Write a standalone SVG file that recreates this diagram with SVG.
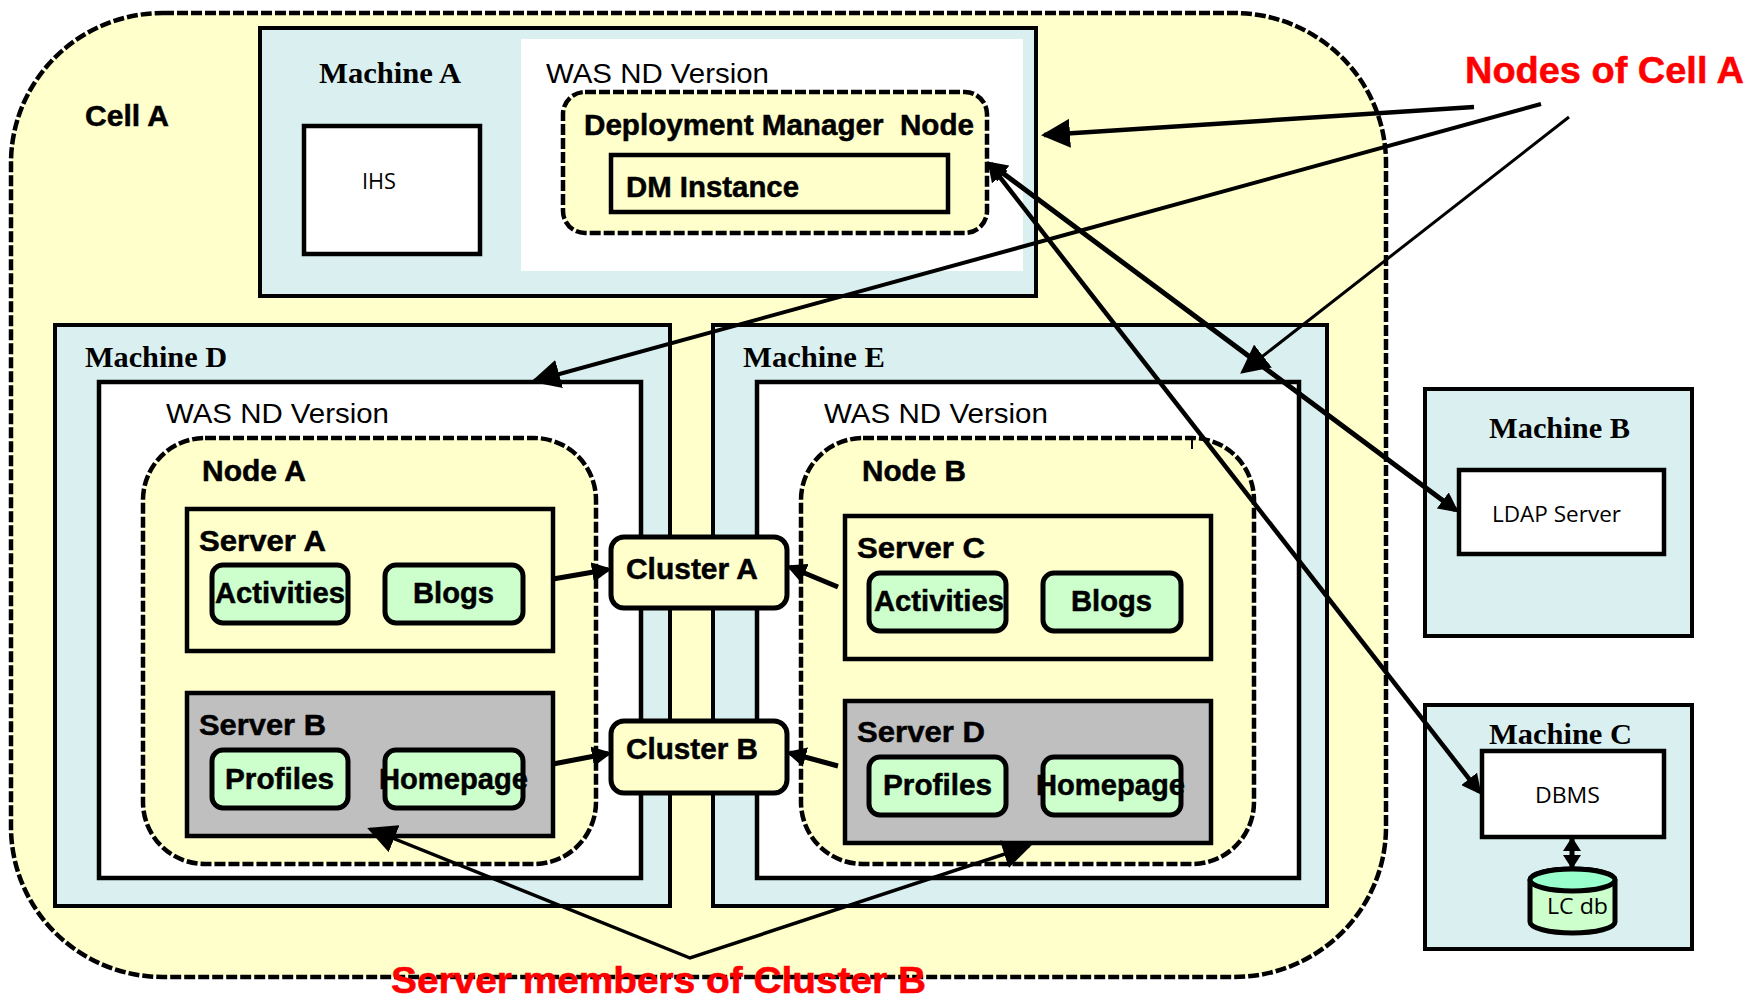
<svg xmlns="http://www.w3.org/2000/svg" width="1748" height="998" viewBox="0 0 1748 998">
<style>
.cell{fill:#ffffcc;stroke:#000;stroke-width:4.500;stroke-dasharray:11 3}
.node{fill:#ffffcc;stroke:#000;stroke-width:4.500;stroke-dasharray:11 3}
.mach{fill:#daf0f0;stroke:#000;stroke-width:4}
.white{fill:#fff;stroke:#000;stroke-width:4.500}
.srv{fill:#ffffcc;stroke:#000;stroke-width:4.500}
.gsrv{fill:#bfbfbf;stroke:#000;stroke-width:4.500}
.app{fill:#ccffcc;stroke:#000;stroke-width:5}
.clu{fill:#ffffcc;stroke:#000;stroke-width:5}
text{fill:#000}
.b{font:bold 29px "Liberation Sans",Arial,sans-serif;stroke:#000;stroke-width:.5}
.m{font:bold 30px "Liberation Serif","Times New Roman",serif}
.w{font:28px "Liberation Sans",Arial,sans-serif}
.s{font:22px "Open Sans","Liberation Sans",sans-serif}
.r{font:bold 36px "Liberation Sans",Arial,sans-serif;fill:#ff0000;stroke:#ff0000;stroke-width:.5}
.c{fill:none;stroke:#000}
</style>
<defs>
<marker id="big" markerUnits="userSpaceOnUse" viewBox="0 0 29 29" markerWidth="29" markerHeight="29" refX="26" refY="14.5" orient="auto-start-reverse"><path d="M0 0L29 14.5L0 29z"/></marker>
<marker id="small" markerUnits="userSpaceOnUse" viewBox="0 0 20 20" markerWidth="20" markerHeight="20" refX="16" refY="10" orient="auto-start-reverse"><path d="M0 0L20 10L0 20z"/></marker>
<marker id="tiny" markerUnits="userSpaceOnUse" viewBox="0 0 14 18" markerWidth="14" markerHeight="18" refX="12" refY="9" orient="auto-start-reverse"><path d="M0 0L14 9L0 18z"/></marker>
</defs>

<g id="cell-a">
<rect class="cell" x="11" y="13" width="1375" height="964" rx="152" ry="150"/>
<text class="b" x="85" y="126" textLength="84" lengthAdjust="spacingAndGlyphs">Cell A</text>
</g>

<g id="machine-a">
<rect class="mach" x="260" y="28" width="776" height="268"/>
<rect x="521" y="39" width="502" height="232" fill="#fff"/>
<text class="m" x="319" y="83" textLength="142" lengthAdjust="spacingAndGlyphs">Machine A</text>
<text class="w" x="546" y="83" textLength="223" lengthAdjust="spacingAndGlyphs">WAS ND Version</text>
</g>
<g id="ihs">
<rect class="white" x="304" y="126" width="176" height="128"/>
<text class="s" x="362" y="189" textLength="34" lengthAdjust="spacingAndGlyphs">IHS</text>
</g>
<g id="dm-node">
<rect class="node" x="563" y="92" width="424" height="141" rx="22" ry="22"/>
<text class="b" x="584" y="135" textLength="390" lengthAdjust="spacingAndGlyphs" xml:space="preserve">Deployment Manager  Node</text>
</g>
<g id="dm-instance">
<rect class="srv" x="611" y="155" width="337" height="57"/>
<text class="b" x="626" y="197" textLength="173" lengthAdjust="spacingAndGlyphs">DM Instance</text>
</g>

<g id="machine-d">
<rect class="mach" x="55" y="325" width="615" height="581"/>
<rect class="white" x="99" y="382" width="542" height="496"/>
<text class="m" x="85" y="367" textLength="142" lengthAdjust="spacingAndGlyphs">Machine D</text>
<text class="w" x="166" y="423" textLength="223" lengthAdjust="spacingAndGlyphs">WAS ND Version</text>
</g>
<g id="node-a">
<rect class="node" x="143" y="438" width="453" height="426" rx="62" ry="62"/>
<text class="b" x="202" y="481" textLength="104" lengthAdjust="spacingAndGlyphs">Node A</text>
</g>
<g id="server-a">
<rect class="srv" x="187" y="509" width="366" height="142"/>
<text class="b" x="199" y="551" textLength="127" lengthAdjust="spacingAndGlyphs">Server A</text>
</g>
<g id="activities-a">
<rect class="app" x="212" y="565" width="136" height="58" rx="11"/>
<text class="b" x="215" y="603" textLength="130" lengthAdjust="spacingAndGlyphs">Activities</text>
</g>
<g id="blogs-a">
<rect class="app" x="385" y="565" width="138" height="58" rx="11"/>
<text class="b" x="413" y="603" textLength="81" lengthAdjust="spacingAndGlyphs">Blogs</text>
</g>
<g id="server-b">
<rect class="gsrv" x="187" y="693" width="366" height="143"/>
<text class="b" x="199" y="735" textLength="127" lengthAdjust="spacingAndGlyphs">Server B</text>
</g>
<g id="profiles-b">
<rect class="app" x="212" y="750" width="136" height="58" rx="11"/>
<text class="b" x="225" y="789" textLength="109" lengthAdjust="spacingAndGlyphs">Profiles</text>
</g>
<g id="homepage-b">
<rect class="app" x="385" y="750" width="138" height="58" rx="11"/>
<text class="b" x="379" y="789" textLength="149" lengthAdjust="spacingAndGlyphs">Homepage</text>
</g>

<g id="machine-e">
<rect class="mach" x="713" y="325" width="614" height="581"/>
<rect class="white" x="757" y="382" width="542" height="496"/>
<text class="m" x="743" y="367" textLength="142" lengthAdjust="spacingAndGlyphs">Machine E</text>
<text class="w" x="824" y="423" textLength="224" lengthAdjust="spacingAndGlyphs">WAS ND Version</text>
</g>
<g id="node-b">
<rect class="node" x="801" y="438" width="453" height="426" rx="62" ry="62"/>
<path d="M1192 439V449" fill="none" stroke="#000" stroke-width="2"/>
<text class="b" x="862" y="481" textLength="104" lengthAdjust="spacingAndGlyphs">Node B</text>
</g>
<g id="server-c">
<rect class="srv" x="845" y="516" width="366" height="143"/>
<text class="b" x="857" y="558" textLength="128" lengthAdjust="spacingAndGlyphs">Server C</text>
</g>
<g id="activities-c">
<rect class="app" x="869" y="573" width="137" height="58" rx="11"/>
<text class="b" x="874" y="611" textLength="130" lengthAdjust="spacingAndGlyphs">Activities</text>
</g>
<g id="blogs-c">
<rect class="app" x="1043" y="573" width="138" height="58" rx="11"/>
<text class="b" x="1071" y="611" textLength="81" lengthAdjust="spacingAndGlyphs">Blogs</text>
</g>
<g id="server-d">
<rect class="gsrv" x="845" y="701" width="366" height="142"/>
<text class="b" x="857" y="742" textLength="128" lengthAdjust="spacingAndGlyphs">Server D</text>
</g>
<g id="profiles-d">
<rect class="app" x="869" y="757" width="137" height="58" rx="11"/>
<text class="b" x="883" y="795" textLength="109" lengthAdjust="spacingAndGlyphs">Profiles</text>
</g>
<g id="homepage-d">
<rect class="app" x="1043" y="757" width="138" height="58" rx="11"/>
<text class="b" x="1036" y="795" textLength="149" lengthAdjust="spacingAndGlyphs">Homepage</text>
</g>

<g id="cluster-a">
<rect class="clu" x="611" y="537" width="176" height="71" rx="13"/>
<text class="b" x="626" y="579" textLength="132" lengthAdjust="spacingAndGlyphs">Cluster A</text>
</g>
<g id="cluster-b">
<rect class="clu" x="611" y="721" width="176" height="72" rx="13"/>
<text class="b" x="626" y="759" textLength="132" lengthAdjust="spacingAndGlyphs">Cluster B</text>
</g>

<g id="machine-b">
<rect class="mach" x="1425" y="389" width="267" height="247"/>
<text class="m" x="1489" y="438" textLength="141" lengthAdjust="spacingAndGlyphs">Machine B</text>
</g>
<g id="ldap-server">
<rect class="white" x="1459" y="470" width="205" height="84"/>
<text class="s" x="1492" y="522" textLength="129" lengthAdjust="spacingAndGlyphs">LDAP Server</text>
</g>
<g id="machine-c">
<rect class="mach" x="1425" y="705" width="267" height="244"/>
<text class="m" x="1489" y="744" textLength="143" lengthAdjust="spacingAndGlyphs">Machine C</text>
</g>
<g id="dbms">
<rect class="white" x="1482" y="751" width="182" height="86"/>
<text class="s" x="1535" y="803" textLength="65" lengthAdjust="spacingAndGlyphs">DBMS</text>
</g>
<g id="lc-db">
<path d="M1530 880V922A42.500 11 0 0 0 1615 922V880A42.500 11 0 0 0 1530 880z" fill="#ccffcc" stroke="#000" stroke-width="5"/>
<ellipse cx="1572.500" cy="880" rx="42.500" ry="11" fill="#99ffcc" stroke="#000" stroke-width="5"/>
<text class="s" x="1547" y="914" textLength="61" lengthAdjust="spacingAndGlyphs">LC db</text>
</g>

<g id="connectors">
<line class="c" stroke-width="4.500" x1="1474" y1="107" x2="1044" y2="135" marker-end="url(#big)"/>
<line class="c" stroke-width="4" x1="1541" y1="104" x2="534" y2="381" marker-end="url(#big)"/>
<line class="c" stroke-width="3" x1="1569" y1="117" x2="1242.500" y2="372" marker-end="url(#big)"/>
<line class="c" stroke-width="5" x1="990.500" y1="164" x2="1455.600" y2="510" marker-start="url(#small)" marker-end="url(#small)"/>
<line class="c" stroke-width="4.500" x1="990" y1="164.500" x2="1479" y2="791.500" marker-start="url(#small)" marker-end="url(#small)"/>
<polyline class="c" stroke-width="3.500" points="370,829 690,958 1029,846" marker-start="url(#big)" marker-end="url(#big)"/>
<line class="c" stroke-width="5" x1="553" y1="579" x2="608" y2="569.500" marker-end="url(#small)"/>
<line class="c" stroke-width="5" x1="553" y1="764" x2="608" y2="753.500" marker-end="url(#small)"/>
<line class="c" stroke-width="5" x1="838" y1="587" x2="790" y2="567" marker-end="url(#small)"/>
<line class="c" stroke-width="5" x1="838" y1="766" x2="790" y2="753" marker-end="url(#small)"/>
<line class="c" stroke-width="5" x1="1572" y1="839" x2="1572" y2="867" marker-start="url(#tiny)" marker-end="url(#tiny)"/>
</g>

<g id="callouts">
<text class="r" x="1465" y="83" textLength="279" lengthAdjust="spacingAndGlyphs">Nodes of Cell A</text>
<text class="r" x="391" y="993" textLength="535" lengthAdjust="spacingAndGlyphs">Server members of Cluster B</text>
</g>
</svg>
